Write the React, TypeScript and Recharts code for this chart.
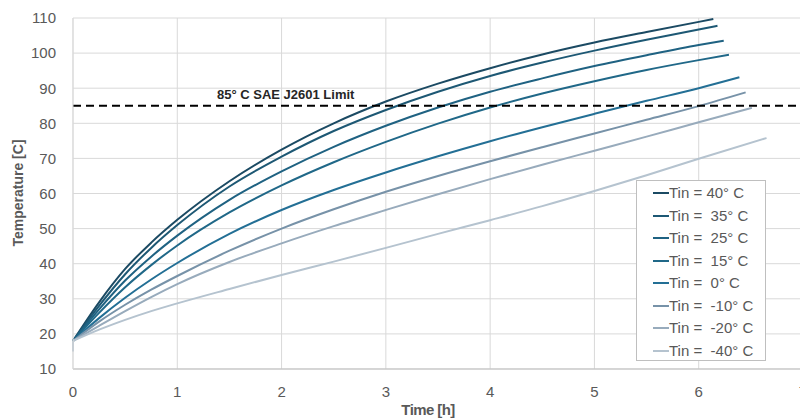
import React from 'react';
import {
  LineChart,
  Line,
  XAxis,
  YAxis,
  CartesianGrid,
  ReferenceLine,
} from 'recharts';

// sample times (h)
const TIME_H = [0, 0.25, 0.5, 0.75, 1, 1.5, 2, 2.5, 3, 3.5, 4, 4.5, 5, 5.5, 6];

const TIN_40 = [18, 29, 38.5, 46, 52.5, 63.5, 72.5, 80, 86.2, 91.3, 95.7, 99.6, 103, 106, 108.9];
const TIN_35 = [18, 28, 37, 44.5, 51, 62, 70.5, 77.8, 83.8, 89, 93.5, 97.3, 100.7, 103.8, 106.7];
const TIN_25 = [18, 27, 35.2, 42, 48, 58.2, 66.3, 73.3, 79.3, 84.5, 89, 92.8, 96.3, 99.4, 102.3];
const TIN_15 = [18, 26, 33.3, 39.6, 45.2, 54.6, 62.3, 68.9, 74.7, 79.9, 84.5, 88.5, 92, 95.2, 98];
const TIN_0 = [18, 24.5, 30.3, 35.5, 40.2, 48.5, 55.3, 61, 66, 70.6, 74.9, 78.9, 82.7, 86.4, 90];
const TIN_M10 = [18, 23.5, 28.3, 32.6, 36.5, 43.7, 50, 55.5, 60.5, 65, 69.2, 73.2, 77.1, 81, 84.9];
const TIN_M20 = [18, 22.3, 26.5, 30.5, 34.2, 40.5, 45.8, 50.7, 55.3, 59.8, 64.1, 68.2, 72.2, 76.2, 80.3];
const TIN_M40 = [18, 21.2, 24, 26.5, 28.7, 32.8, 36.8, 40.6, 44.5, 48.5, 52.4, 56.4, 60.7, 65.2, 69.9];

// last point of each run (time, temperature)
const END_TIME = [6.14, 6.18, 6.24, 6.29, 6.39, 6.45, 6.51, 6.65];
const END_TEMP = [109.7, 107.8, 103.5, 99.5, 93.1, 88.8, 84.4, 75.8];

// short vertical jump at t = 0
const START_STEP = [15, 18];

const NAMES = [
  'Tin = 40° C',
  'Tin =  35° C',
  'Tin =  25° C',
  'Tin =  15° C',
  'Tin =  0° C',
  'Tin =  -10° C',
  'Tin =  -20° C',
  'Tin =  -40° C',
];
const COLORS = ['#1b4a63', '#1d5874', '#1f6282', '#206888', '#236f95', '#7792a8', '#98abbc', '#b5c3cf'];

const X_TICKS = [0, 1, 2, 3, 4, 5, 6, 7];
const Y_TICKS = [10, 20, 30, 40, 50, 60, 70, 80, 90, 100, 110];
const LIMIT = 85;
const LIMIT_LABEL = '85° C SAE J2601 Limit';

const SERIES = [TIN_40, TIN_35, TIN_25, TIN_15, TIN_0, TIN_M10, TIN_M20, TIN_M40].map((vals, i) => ({
  name: NAMES[i],
  color: COLORS[i],
  data: [...TIME_H.map((t, j) => ({ t, v: vals[j] })), { t: END_TIME[i], v: END_TEMP[i] }],
}));

const startData = START_STEP.map((v) => ({ t: 0, v }));

const GRAY = '#595959';
const FONT = '"Liberation Sans", Arial, sans-serif';

const LegendBox = () => (
  <div
    style={{
      position: 'absolute',
      left: 636,
      top: 180,
      width: 128,
      height: 178,
      border: '1px solid #bfbfbf',
      background: '#fff',
      paddingTop: 1,
      fontFamily: FONT,
      fontSize: 15,
      color: GRAY,
    }}
  >
    {SERIES.map((s) => (
      <div key={s.name} style={{ height: 22.5, lineHeight: '22.5px', display: 'flex', alignItems: 'center', whiteSpace: 'pre' }}>
        <span style={{ display: 'inline-block', width: 16, height: 2, background: s.color, marginLeft: 16 }} />
        <span>{s.name}</span>
      </div>
    ))}
  </div>
);

const LimitLabel = ({ viewBox }: any) => (
  <text x={viewBox.x + 144} y={viewBox.y - 7} fill="#262626" fontSize={13} fontWeight="bold" fontFamily={FONT}>
    {LIMIT_LABEL}
  </text>
);

export default function App() {
  return (
    <div style={{ position: 'absolute', left: 0, top: 0, width: 800, height: 419, overflow: 'hidden', background: '#fff' }}>
      <LineChart width={810} height={419} margin={{ top: 18, right: 7, left: 0, bottom: 0 }}>
        <CartesianGrid stroke="#d9d9d9" />
        <XAxis
          type="number"
          dataKey="t"
          domain={[0, 7]}
          ticks={X_TICKS}
          interval={0}
          height={50}
          tickSize={0}
          tickMargin={17}
          axisLine={{ stroke: '#bfbfbf' }}
          tick={{ fill: GRAY, fontSize: 15, fontFamily: FONT }}
        />
        <YAxis
          type="number"
          domain={[10, 110]}
          ticks={Y_TICKS}
          interval={0}
          width={73}
          tickSize={0}
          tickMargin={17}
          axisLine={{ stroke: '#d9d9d9' }}
          tick={{ fill: GRAY, fontSize: 15, fontFamily: FONT }}
        />
        {SERIES.map((s) => (
          <Line
            key={s.name}
            data={s.data}
            dataKey="v"
            name={s.name}
            type="monotone"
            stroke={s.color}
            strokeWidth={2}
            dot={false}
            activeDot={false}
            isAnimationActive={false}
          />
        ))}
        <Line
          data={startData}
          dataKey="v"
          type="linear"
          stroke={COLORS[7]}
          strokeWidth={2}
          dot={false}
          activeDot={false}
          isAnimationActive={false}
          legendType="none"
        />
        <ReferenceLine y={LIMIT} stroke="#000" strokeWidth={2} strokeDasharray="8 5" label={<LimitLabel />} />
      </LineChart>
      <LegendBox />
      <div
        style={{
          position: 'absolute',
          left: 378,
          top: 401,
          width: 100,
          textAlign: 'center',
          fontFamily: FONT,
          fontSize: 15,
          fontWeight: 'bold',
          color: GRAY,
          letterSpacing: -0.6,
        }}
      >
        Time [h]
      </div>
      <div
        style={{
          position: 'absolute',
          left: 18,
          top: 193,
          width: 150,
          marginLeft: -75,
          marginTop: -9,
          lineHeight: '18px',
          textAlign: 'center',
          transform: 'rotate(-90deg)',
          fontFamily: FONT,
          fontSize: 14,
          fontWeight: 'bold',
          color: GRAY,
        }}
      >
        Temperature [C]
      </div>
    </div>
  );
}
